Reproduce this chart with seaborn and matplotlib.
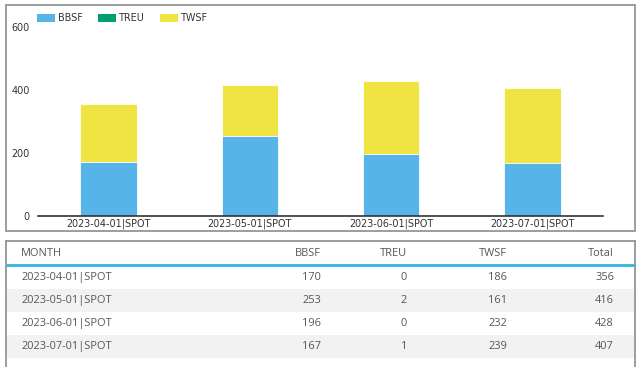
import matplotlib
matplotlib.use("Agg")
import matplotlib.pyplot as plt
from matplotlib.patches import Patch, Rectangle
from matplotlib.lines import Line2D
import seaborn as sns
import pandas as pd
import numpy as np

months = ["2023-04-01|SPOT", "2023-05-01|SPOT", "2023-06-01|SPOT", "2023-07-01|SPOT"]
bbsf = [170, 253, 196, 167]
treu = [0, 2, 0, 1]
twsf = [186, 161, 232, 239]
series_names = ["BBSF", "TREU", "TWSF"]
colors = ["#56B4E9", "#009E73", "#F0E442"]
yticks = [0, 200, 400, 600]

sns.set_theme(style="white")
plt.rcParams["font.family"] = ["Open Sans", "DejaVu Sans"]

W, H = 640, 367
fig = plt.figure(figsize=(W / 100, H / 100), dpi=100)

def fx(x):
    return x / W

def fy(y):
    return 1 - y / H

chart_font = "DejaVu Sans"
cfs = 6.9

# axes for chart
ax = fig.add_axes([fx(38), fy(216), fx(603) - fx(38), fy(27) - fy(216)])

df = pd.DataFrame({"month": months, "BBSF": bbsf, "TREU": treu, "TWSF": twsf})
df["c1"] = df["BBSF"]
df["c2"] = df["BBSF"] + df["TREU"]
df["c3"] = df["c2"] + df["TWSF"]

for col, color in zip(["c3", "c2", "c1"], [colors[2], colors[1], colors[0]]):
    sns.barplot(data=df, x="month", y=col, color=color, width=0.4, ax=ax,
                saturation=1, edgecolor="white", linewidth=0.6, errorbar=None)

ax.set_ylim(0, 600)
ax.set_xlim(-0.5, 3.5)
ax.set_yticks(yticks)
ax.set_yticklabels([str(t) for t in yticks], fontfamily=chart_font)
ax.set_xticks(range(len(months)))
ax.set_xticklabels(months, fontfamily=chart_font)
ax.set_xlabel("")
ax.set_ylabel("")
ax.grid(False)
for s in ["top", "right", "left"]:
    ax.spines[s].set_visible(False)
ax.spines["bottom"].set_color("#333333")
ax.spines["bottom"].set_linewidth(1.2)
ax.tick_params(axis="both", length=0, labelsize=cfs, colors="#333333")
ax.tick_params(axis="y", pad=6)
ax.tick_params(axis="x", pad=2)
ax.set_facecolor("none")

handles = [Patch(facecolor=c, edgecolor="none", label=n) for c, n in zip(colors, series_names)]
fig.legend(handles=handles, loc="upper left", bbox_to_anchor=(fx(37), fy(13)), ncol=3,
           frameon=False, handlelength=1.9, handleheight=0.85,
           handletextpad=0.32, columnspacing=1.55, labelcolor="#333333", borderaxespad=0,
           borderpad=0, prop={"family": chart_font, "size": cfs})

# panel borders
border = "#8c8c8c"
fig.add_artist(Rectangle((fx(6), fy(231)), fx(635) - fx(6), fy(5) - fy(231),
                         transform=fig.transFigure, fill=False, edgecolor=border, linewidth=1.2))
for xs, ys in [((6, 6), (241, 368)), ((6, 634.5), (241, 241)), ((634.5, 634.5), (241, 368))]:
    fig.add_artist(Line2D([fx(xs[0]), fx(xs[1])], [fy(ys[0]), fy(ys[1])],
                          transform=fig.transFigure, color=border, linewidth=1.2))

# table
header = ["MONTH", "BBSF", "TREU", "TWSF", "Total"]
col_right = [None, 321, 407, 507, 614]
totals = [a + b + c for a, b, c in zip(bbsf, treu, twsf)]
txt_color = "#555555"
fs = 7.9

fig.text(fx(21), fy(253), header[0], ha="left", va="center", fontsize=fs, color=txt_color)
for h, xr in zip(header[1:], col_right[1:]):
    fig.text(fx(xr), fy(253), h, ha="right", va="center", fontsize=fs, color=txt_color)

fig.add_artist(Line2D([fx(7), fx(634)], [fy(265), fy(265)], transform=fig.transFigure,
                      color="#35B2E4", linewidth=2))

row_y = [277.5, 300.5, 323.5, 346.5]
for i, (m, b, t, w, tot) in enumerate(zip(months, bbsf, treu, twsf, totals)):
    y = row_y[i]
    if i % 2 == 1:
        fig.add_artist(Rectangle((fx(7), fy(y + 11.5)), fx(634) - fx(7), fy(y - 11.5) - fy(y + 11.5),
                                 transform=fig.transFigure, facecolor="#f2f2f2", edgecolor="none"))
    fig.text(fx(21), fy(y), m, ha="left", va="center", fontsize=fs, color=txt_color)
    for v, xr in zip([b, t, w, tot], col_right[1:]):
        fig.text(fx(xr), fy(y), str(v), ha="right", va="center", fontsize=fs, color=txt_color)

fig.savefig("out.png", dpi=100)
